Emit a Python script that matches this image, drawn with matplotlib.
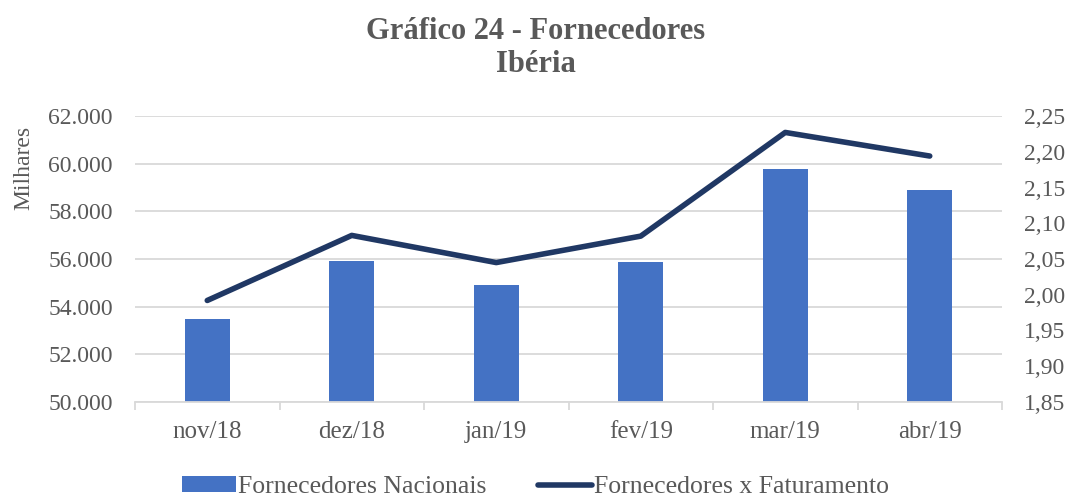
import matplotlib
matplotlib.use("Agg")
import matplotlib.pyplot as plt
import matplotlib.ticker as mticker
import numpy as np

# data
months = ["nov/18", "dez/18", "jan/19", "fev/19", "mar/19", "abr/19"]
fornecedores_nacionais = [53500, 55920, 54910, 55875, 59790, 58910]  # milhares
fornecedores_x_faturamento = [1.992, 2.083, 2.045, 2.082, 2.227, 2.194]

BAR_COLOR = "#4472C4"
LINE_COLOR = "#203864"
TEXT_COLOR = "#595959"
GRID_COLOR = "#D9D9D9"

plt.rcParams["font.family"] = ["Liberation Serif", "DejaVu Serif"]

fig = plt.figure(figsize=(10.71, 4.97), dpi=100)
ax = fig.add_axes([135 / 1071, 1 - 402 / 497, 867 / 1071, 286 / 497])
ax2 = ax.twinx()

x = np.arange(len(months))
bars = ax.bar(x, fornecedores_nacionais, width=0.31, color=BAR_COLOR,
              label="Fornecedores Nacionais", zorder=2)
line, = ax2.plot(x, fornecedores_x_faturamento, color=LINE_COLOR, linewidth=4,
                 solid_capstyle="round", label="Fornecedores x Faturamento")

ax.set_xlim(-0.5, len(months) - 0.5)
ax.set_ylim(50000, 62000)
ax.yaxis.set_major_locator(mticker.MultipleLocator(2000))
ax.yaxis.set_major_formatter(mticker.FuncFormatter(
    lambda v, p: f"{v / 1000:.3f}"))
ax2.set_ylim(1.85, 2.25)
ax2.yaxis.set_major_locator(mticker.MultipleLocator(0.05))
ax2.yaxis.set_major_formatter(mticker.FuncFormatter(
    lambda v, p: f"{v:.2f}".replace(".", ",")))

ax.grid(axis="y", color=GRID_COLOR, linewidth=1.3, zorder=0)
ax.set_axisbelow(True)

for a in (ax, ax2):
    for s in ("top", "left", "right"):
        a.spines[s].set_visible(False)
ax2.spines["bottom"].set_visible(False)
ax.spines["bottom"].set_color(GRID_COLOR)
ax.spines["bottom"].set_linewidth(1.3)

# category labels centred, tick marks at category boundaries
ax.set_xticks(x)
ax.set_xticklabels(months)
ax.set_xticks(np.arange(-0.5, len(months)), minor=True)
ax.tick_params(axis="x", which="major", length=0, pad=14,
               labelsize=18, labelcolor=TEXT_COLOR)
ax.tick_params(axis="x", which="minor", length=6, width=1.3, color=GRID_COLOR)
ax.tick_params(axis="y", length=0, pad=16, labelsize=17, labelcolor=TEXT_COLOR)
ax2.tick_params(axis="y", length=0, pad=16, labelsize=17, labelcolor=TEXT_COLOR)

ax.set_ylabel("Milhares", fontsize=17, color=TEXT_COLOR)
ax.yaxis.set_label_coords(-0.116, 0.82)

fig.text(0.5, 1 - 48 / 497, "Gráfico 24 - Fornecedores\nIbéria", ha="center",
         va="center", fontsize=22, fontweight="bold", color=TEXT_COLOR,
         linespacing=1.15)

fig.legend(handles=[bars, line], loc="center", bbox_to_anchor=(0.5, 1 - 487 / 497),
           ncol=2, frameon=False, fontsize=18.5, labelcolor=TEXT_COLOR,
           handlelength=2.1, handleheight=0.55, handletextpad=0.1,
           columnspacing=2.0, borderaxespad=0)

fig.savefig("out.png", dpi=100)
